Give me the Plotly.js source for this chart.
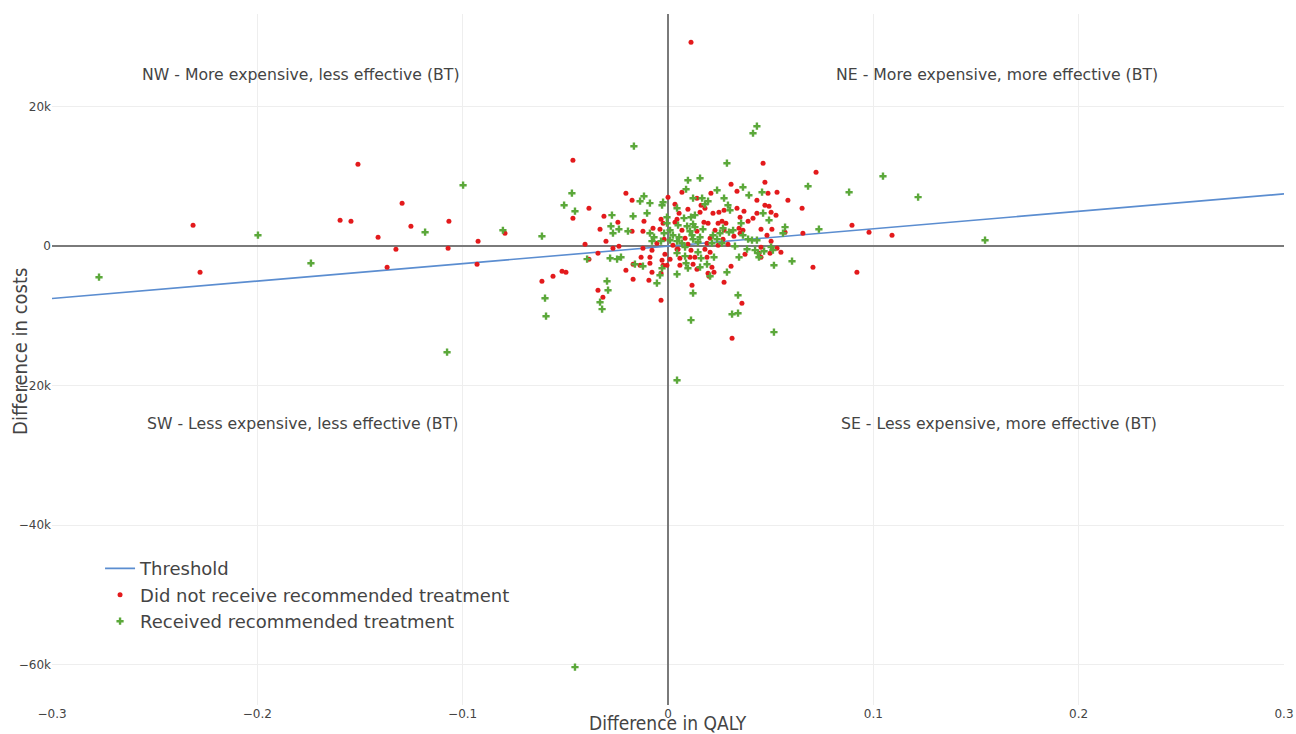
<!DOCTYPE html>
<html>
<head>
<meta charset="utf-8">
<script src="https://cdn.plot.ly/plotly-3.0.1.min.js"></script>
<style>html,body{margin:0;padding:0;background:#fff;}#chart{width:1296px;height:734px;}</style>
</head>
<body>
<div id="chart"></div>
<script>
// Threshold line (willingness to pay 25k per QALY)
const thresholdX = [-0.3, 0.3];
const thresholdY = [-7500, 7500];

// Did not receive recommended treatment
const notRecX = [0.0112,-0.2313,-0.2279,-0.151,-0.1597,-0.1544,-0.1412,-0.1325,-0.1368,-0.1295,-0.1252,-0.1067,-0.1071,-0.0925,-0.0930,-0.0794,-0.0463,-0.0385,-0.0205,-0.0175,0.0000,0.0068,0.0209,0.0161,0.0034,-0.0312,-0.0463,-0.0244,-0.0331,-0.0175,-0.0117,-0.0302,-0.0404,-0.0239,-0.0268,-0.0341,-0.0385,-0.0131,-0.0136,-0.0088,-0.0205,-0.0516,-0.0497,-0.0560,-0.0614,-0.0170,-0.0093,-0.0034,-0.0078,-0.0341,-0.0317,-0.0034,-0.0034,-0.0024,0.0034,0.0044,-0.0122,-0.0073,-0.0039,-0.0054,-0.0019,-0.0122,-0.0078,0.0024,0.0044,-0.0088,-0.0015,0.0010,-0.0029,-0.0170,-0.0024,-0.0005,0.0463,0.0307,0.0472,0.0336,0.0141,0.0433,0.0097,0.0054,0.0156,0.0180,0.0219,0.0248,0.0273,0.0336,0.0370,0.0433,0.0175,0.0195,0.0244,0.0263,0.0282,0.0351,0.0390,0.0414,0.0068,0.0141,0.0229,0.0273,0.0346,0.0365,0.0453,0.0083,0.0205,0.0268,0.0321,0.0351,0.0097,0.0190,0.0244,0.0292,0.0453,0.0049,0.0112,0.0180,0.0205,0.0058,0.0107,0.0131,0.0190,0.0375,0.0453,0.0058,0.0122,0.0214,0.0141,0.0195,0.0224,0.0273,0.0117,0.0360,0.0721,0.0487,0.0531,0.0584,0.0472,0.0492,0.0653,0.0502,0.0526,0.0506,0.0570,0.0657,0.0482,0.0502,0.0531,0.0497,0.0550,0.0706,0.0896,0.0979,0.1091,0.0920,0.0307,0.0200,0.0312,0.0443];
const notRecY = [29250,3010,-3730,11760,3730,3590,1290,-430,-3010,6170,2870,3590,-290,720,-2580,1860,12330,5450,7600,6600,7030,7740,7600,5880,6020,4300,4020,3440,2440,2150,3590,720,290,0,-290,-1000,-1860,-1580,-2730,-2440,-3440,-3590,-3730,-4300,-5020,-4730,-4880,-3870,-3730,-6310,-7310,-7740,3870,3300,3440,3870,2150,2580,2440,430,1000,-290,-570,140,-430,-1580,-1150,-1860,-2010,-2580,-2730,-2730,11900,8890,9180,7890,6880,6600,5310,4730,4880,5450,4730,4880,5160,5450,5020,4730,3440,3300,3300,3590,3300,4160,3590,4020,2290,2150,2290,2290,2580,2290,2440,1150,1150,1000,1430,1860,290,430,140,290,-140,-430,-570,-430,-860,-1720,-1580,-1580,-1580,-1150,-1580,-2730,-2580,-3010,-3300,-3870,-3730,-5160,-5590,-8170,10610,7600,7740,6600,5880,5740,5450,4880,4450,2440,2010,1860,1580,720,-290,-1000,-860,-3010,3010,2010,1580,-3730,-2870,-4300,-13190,-1000];

// Received recommended treatment
const recX = [-0.2771,-0.1997,-0.1739,-0.1183,-0.0998,-0.0804,-0.1076,-0.0453,0.0044,-0.0166,-0.0468,-0.0506,-0.0453,-0.0117,-0.0136,-0.0088,-0.0024,0.0097,0.0156,0.0088,0.0239,0.0122,0.0166,0.0195,-0.0273,-0.0170,-0.0102,-0.0278,-0.0239,-0.0268,-0.0195,-0.0614,-0.0394,-0.0282,-0.0248,-0.0229,-0.0161,-0.0297,-0.0054,-0.0292,-0.0599,-0.0321,-0.0594,-0.0029,-0.0005,-0.0005,0.0010,-0.0088,-0.0068,-0.0019,0.0024,-0.0078,-0.0034,0.0010,0.0044,-0.0122,-0.0029,-0.0039,0.0044,0.0287,0.0365,0.0394,0.0180,0.0273,0.0292,0.0044,0.0302,0.0463,0.0078,0.0112,0.0131,0.0268,0.0356,0.0049,0.0093,0.0122,0.0131,0.0107,0.0170,0.0253,0.0297,0.0317,0.0365,0.0054,0.0117,0.0122,0.0156,0.0219,0.0239,0.0390,0.0409,0.0433,0.0068,0.0146,0.0214,0.0263,0.0326,0.0385,0.0424,0.0083,0.0146,0.0044,0.0083,0.0161,0.0224,0.0346,0.0438,0.0088,0.0156,0.0190,0.0097,0.0205,0.0287,0.0122,0.0341,0.0433,0.0414,0.0682,0.0882,0.0458,0.0492,0.0570,0.0560,0.0735,0.0502,0.0468,0.0511,0.0516,0.0604,0.0516,0.0341,0.0312,0.0443,0.1047,0.1218,0.1544,0.0112,-0.0331];
const recY = [-4450,1580,-2440,2010,8750,2290,-15200,-60370,-19220,14340,7600,5880,5020,7170,6450,6170,6310,9460,9750,8170,8030,6880,6880,6450,4450,4300,4730,2870,2440,1860,2150,1430,-1860,-1720,-1860,-1580,-2580,-5020,-5310,-6310,-7460,-9030,-10040,5880,4160,3300,2290,1860,1290,1860,1580,720,720,860,720,-2870,-3160,-4160,-4020,11900,8460,7310,6020,6880,5880,5450,5160,4730,4020,4160,4450,2580,3300,3010,2870,3160,2730,2150,2440,1860,2010,2290,1580,1290,1580,1000,1290,1580,1000,1000,860,860,430,570,430,430,0,-430,-570,-140,-860,-1000,-1430,-1720,-1580,-1580,-1000,-2440,-3010,-2580,-3160,-4300,-3730,-6740,-7030,17210,16200,8600,7740,7740,3730,2730,1860,2440,-140,-720,-570,-2730,-2150,-12330,-9610,-9750,-1580,10040,7030,860,-10610,-8030];

const seriesNames = ['Threshold', 'Did not receive recommended treatment', 'Received recommended treatment'];
const quadrantLabels = ['NW - More expensive, less effective (BT)', 'NE - More expensive, more effective (BT)', 'SW - Less expensive, less effective (BT)', 'SE - Less expensive, more effective (BT)'];
const quadrantX = [-0.1787, 0.160, -0.178, 0.161];
const quadrantY = [24660, 24660, -25380, -25380];
const xTitle = 'Difference in QALY';
const yTitle = 'Difference in costs';

const traces = [
  {x: thresholdX, y: thresholdY, mode: 'lines', name: seriesNames[0], type: 'scatter',
   line: {color: '#5b8dd0', width: 1.6}, hoverinfo: 'skip'},
  {x: notRecX, y: notRecY, mode: 'markers', name: seriesNames[1], type: 'scatter',
   marker: {color: '#e31a1c', size: 5, symbol: 'circle'}},
  {x: recX, y: recY, mode: 'markers', name: seriesNames[2], type: 'scatter',
   marker: {color: '#5ba83a', size: 6, symbol: 'cross'}}
];

const annotations = quadrantLabels.map((t, i) => ({
  text: t, x: quadrantX[i], y: quadrantY[i], xref: 'x', yref: 'y', showarrow: false,
  font: {family: 'DejaVu Sans', size: 15.7, color: '#444'}
}));
annotations.push({text: xTitle, xref: 'paper', yref: 'paper', x: 0.5, y: 0, yshift: -18,
  xanchor: 'center', yanchor: 'middle', showarrow: false,
  font: {family: 'DejaVu Sans Condensed', size: 19, color: '#444'}});
annotations.push({text: yTitle, xref: 'paper', yref: 'paper', x: 0, y: 0.511, xshift: -32,
  xanchor: 'center', yanchor: 'middle', textangle: -90, showarrow: false,
  font: {family: 'DejaVu Sans Condensed', size: 20, color: '#444'}});

const layout = {
  width: 1296, height: 734,
  margin: {l: 52, r: 12, t: 14, b: 29},
  paper_bgcolor: '#fff', plot_bgcolor: '#fff',
  font: {family: 'DejaVu Sans', size: 12, color: '#444'},
  showlegend: true,
  legend: {x: 0.039, y: 0.224, xanchor: 'left', yanchor: 'top', bgcolor: 'rgba(0,0,0,0)',
    font: {family: 'DejaVu Sans', size: 18, color: '#444'}},
  xaxis: {range: [-0.3, 0.3], dtick: 0.1, tick0: 0, zeroline: true, zerolinecolor: '#7a7a7a', zerolinewidth: 1.5,
    gridcolor: '#eee', showline: false, ticks: '', tickfont: {family: 'DejaVu Sans', size: 12, color: '#444'}},
  yaxis: {range: [-65800, 33300], dtick: 20000, tick0: 0, zeroline: true, zerolinecolor: '#7a7a7a', zerolinewidth: 1.5,
    gridcolor: '#eee', showline: false, ticks: '', tickfont: {family: 'DejaVu Sans', size: 12, color: '#444'}},
  annotations: annotations,
  hovermode: false
};

Plotly.newPlot('chart', traces, layout, {displayModeBar: false, staticPlot: true});
</script>
</body>
</html>
